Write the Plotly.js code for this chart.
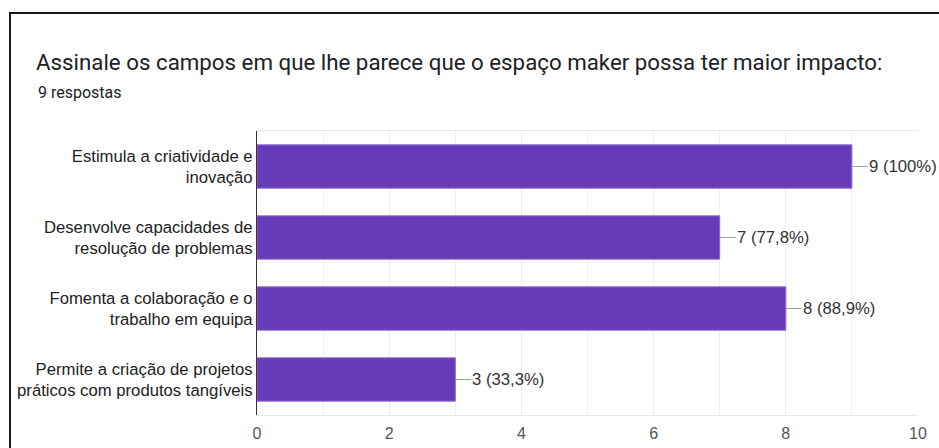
<!DOCTYPE html>
<html>
<head>
<meta charset="utf-8">
<script src="https://cdn.plot.ly/plotly-3.0.1.min.js"></script>
<style>
  html, body { margin: 0; padding: 0; background: #fff; }
  #chart { position: absolute; left: 0; top: 0; width: 939px; height: 448px; }
  #frame { position: absolute; left: 9px; top: 12px; width: 940px; height: 440px;
           border-top: 2px solid #1a1a1a; border-left: 2px solid #1a1a1a; pointer-events: none; }
</style>
</head>
<body>
<div id="chart"></div>
<div id="frame"></div>
<script>
const categories = [
  "Estimula a criatividade e<br>inovação",
  "Desenvolve capacidades de<br>resolução de problemas",
  "Fomenta a colaboração e o<br>trabalho em equipa",
  "Permite a criação de projetos<br>práticos com produtos tangíveis"
];
const counts = [9, 7, 8, 3];
const percentLabels = ["100%", "77,8%", "88,9%", "33,3%"];
const xTickValues = [0, 2, 4, 6, 8, 10];
const titleText = "Assinale os campos em que lhe parece que o espaço maker possa ter maior impacto:";
const subtitleText = "9 respostas";

const labelFont = { family: "Liberation Sans, Arial, sans-serif", size: 16.7, color: "#333333" };

const trace = {
  type: "bar",
  orientation: "h",
  y: categories,
  x: counts,
  width: 0.61,
  marker: { color: "#673ab7", line: { color: "#8c6bd0", width: 1 } },
  hoverinfo: "none"
};

const valueAnnotations = counts.map((v, i) => ({
  x: v, y: categories[i], xref: "x", yref: "y",
  text: v + " (" + percentLabels[i] + ")",
  showarrow: true, arrowhead: 0, arrowwidth: 1, arrowcolor: "#9e9e9e",
  ax: 16, ay: 0, xanchor: "left", yanchor: "middle",
  standoff: 0, startstandoff: 0, borderpad: 0,
  font: labelFont
}));

const layout = {
  width: 939, height: 448,
  margin: { l: 257, r: 21, t: 131, b: 33 },
  paper_bgcolor: "#ffffff", plot_bgcolor: "#ffffff",
  showlegend: false,
  title: {
    text: titleText,
    font: { family: "Roboto, sans-serif", size: 22.3, color: "#202124" },
    xref: "container", yref: "container",
    x: 36 / 939, xanchor: "left",
    y: 1 - 62 / 448, yanchor: "middle"
  },
  xaxis: {
    range: [0, 10],
    tickvals: xTickValues,
    ticktext: xTickValues.map(String),
    showgrid: true, gridcolor: "#ebebeb", gridwidth: 1,
    minor: { dtick: 1, tick0: 0, showgrid: true, gridcolor: "#f0f0f0", gridwidth: 1 },
    zeroline: false,
    showline: true, mirror: true, linecolor: "#e8e8e8", linewidth: 1,
    ticks: "",
    tickfont: { family: "Liberation Sans, Arial, sans-serif", size: 16, color: "#555555" },
    ticklabelstandoff: 4,
    fixedrange: true
  },
  yaxis: {
    autorange: "reversed",
    showgrid: false,
    zeroline: false,
    showline: true, linecolor: "#333333", linewidth: 1,
    ticks: "",
    tickfont: { family: "Liberation Sans, Arial, sans-serif", size: 16.7, color: "#222222" },
    ticklabelstandoff: 0,
    fixedrange: true
  },
  annotations: [
    {
      text: subtitleText, xref: "paper", yref: "paper",
      x: (36 - 257) / 661, y: (415 - 93) / 284,
      xanchor: "left", yanchor: "middle", showarrow: false,
      font: { family: "Roboto, sans-serif", size: 16, color: "#202124" }
    }
  ].concat(valueAnnotations)
};

Plotly.newPlot("chart", [trace], layout, { displayModeBar: false, staticPlot: true });
</script>
</body>
</html>
